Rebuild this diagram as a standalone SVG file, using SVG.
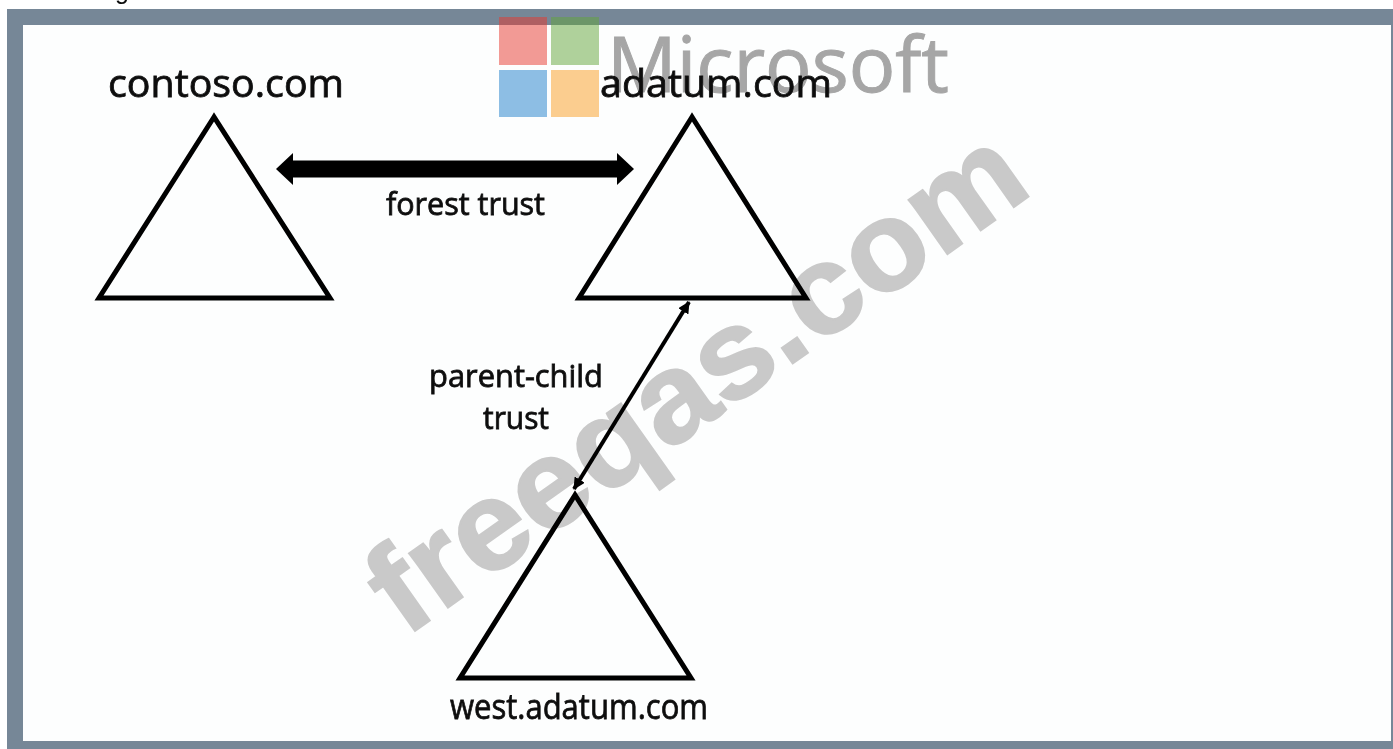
<svg xmlns="http://www.w3.org/2000/svg" width="1393" height="749" viewBox="0 0 1393 749">
<defs>
<style>
.tri{fill:none;stroke:#000;stroke-width:5;stroke-linejoin:miter}
.lbl{font-family:"Open Sans","Noto Sans","Liberation Sans",sans-serif;fill:#111;stroke:#111;stroke-width:0.8}
.big{font-size:39px}
.mid{font-size:35px}
.small{font-size:31px}
</style>
<filter id="soft" x="0" y="0" width="1" height="1" filterUnits="objectBoundingBox"><feGaussianBlur stdDeviation="0.6"/></filter>
<marker id="bigHead" markerUnits="userSpaceOnUse" markerWidth="18" markerHeight="34" refX="2" refY="17" orient="auto-start-reverse"><path d="M0 1L17 17L0 33Z" fill="#000"/></marker>
<marker id="thinHead" markerUnits="userSpaceOnUse" markerWidth="13" markerHeight="12" refX="11" refY="6" orient="auto-start-reverse"><path d="M0 0L12 6L0 12Z" fill="#000"/></marker>
</defs>
<rect width="1393" height="749" fill="#fff"/>
<g filter="url(#soft)">
<g id="frame">
<rect x="7" y="9" width="1396" height="750" fill="#768797"/>
<rect x="23" y="25" width="1368" height="716" fill="#fdfefe"/>
</g>
<text x="115" y="-1" font-family="'Liberation Sans',sans-serif" font-size="25" fill="#111">g</text>
<g id="logo" opacity="0.5">
<rect x="499" y="17" width="48" height="48" fill="#e8392e"/>
<rect x="551" y="17" width="48" height="48" fill="#63a53a"/>
<rect x="499" y="70" width="48" height="47" fill="#1f7fcb"/>
<rect x="551" y="70" width="48" height="47" fill="#fb9d22"/>
</g>
<text id="ms" x="607" y="92" font-family="'Open Sans','Noto Sans',sans-serif" font-size="77" fill="#a6a6a6" stroke="#a6a6a6" stroke-width="1" textLength="342" lengthAdjust="spacingAndGlyphs">Microsoft</text>
<g id="watermark">
<text transform="translate(405 638) rotate(-35.3)" font-family="'Liberation Sans',Arial,sans-serif" font-weight="700" font-size="126" fill="#c9c9c9" stroke="#c9c9c9" stroke-width="2" textLength="772" lengthAdjust="spacingAndGlyphs">freeqas.com</text>
</g>
<g id="contoso">
<path class="tri" d="M214 117L99 298H330Z"/>
<text class="lbl big" x="108" y="97" textLength="236" lengthAdjust="spacingAndGlyphs">contoso.com</text>
</g>
<g id="adatum">
<path class="tri" d="M692 117L579 298H806Z"/>
<text class="lbl big" x="600" y="97" textLength="232" lengthAdjust="spacingAndGlyphs">adatum.com</text>
</g>
<g id="west">
<path class="tri" d="M575 495L460 678H691Z"/>
<text class="lbl mid" x="450" y="719" textLength="258" lengthAdjust="spacingAndGlyphs">west.adatum.com</text>
</g>
<g id="connectors">
<line x1="291" y1="169" x2="619" y2="169" stroke="#000" stroke-width="17" marker-start="url(#bigHead)" marker-end="url(#bigHead)"/>
<line x1="574" y1="489" x2="689" y2="302" stroke="#000" stroke-width="4" marker-start="url(#thinHead)" marker-end="url(#thinHead)"/>
</g>
<g id="labels">
<text class="lbl small" x="386" y="215" textLength="159" lengthAdjust="spacingAndGlyphs">forest trust</text>
<text class="lbl small" x="429" y="387" textLength="174" lengthAdjust="spacingAndGlyphs">parent-child</text>
<text class="lbl small" x="483" y="429" textLength="66" lengthAdjust="spacingAndGlyphs">trust</text>
</g>
</g>
</svg>
